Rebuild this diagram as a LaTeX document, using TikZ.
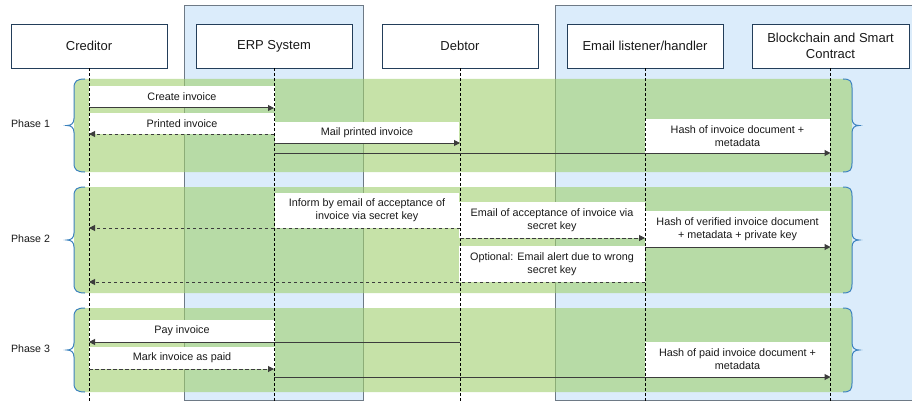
\documentclass[tikz,border=0pt]{standalone}
\usepackage{fontspec}
\setmainfont{Liberation Sans}
\usetikzlibrary{arrows.meta}
\definecolor{colblue}{RGB}{219,236,251}
\definecolor{coledge}{RGB}{110,122,134}
\definecolor{bandgreen}{RGB}{160,208,110}
\definecolor{hdrline}{RGB}{35,62,90}
\definecolor{bracecol}{RGB}{60,130,190}
\definecolor{arrowcol}{RGB}{60,60,60}
\begin{document}
\begin{tikzpicture}[x=1pt,y=-1pt,
 hdr/.style={draw=hdrline, fill=white, line width=0.9pt, minimum width=156pt, minimum height=44pt, inner sep=1pt, align=center, font=\fontsize{13}{15.5}\selectfont, text=black!90},
 lbl/.style={fill=white, inner sep=0pt, align=center, font=\fontsize{10.8}{13}\selectfont, text=black!90},
 lifeline/.style={draw=black, line width=0.8pt, dash pattern=on 3pt off 2pt},
 msg/.style={draw=arrowcol, line width=1pt, -{Triangle[length=6pt,width=6pt]}},
 reply/.style={msg, dash pattern=on 3.5pt off 2.5pt},
 band/.style={fill=bandgreen, fill opacity=0.6, rounded corners=8pt},
 column/.style={fill=colblue, draw=coledge, line width=0.8pt},
 bracestyle/.style={draw=bracecol, line width=1pt},
 phase/.style={font=\fontsize{10.6}{12}\selectfont, text=black!90}
]
\clip (0,0) rectangle (912,401);
\fill[white] (0,0) rectangle (912,401);

% system columns
\draw[column] (184,5) rectangle (363,400);
\draw[column] (555,5) rectangle (920,400);

% phase bands
\fill[band] (74,79) rectangle (852,172);
\fill[band] (74,187) rectangle (852,293);
\fill[band] (74,308) rectangle (852,392);

% headers
\node[hdr] (cred) at (89,46) {Creditor};
\node[hdr] (erp) at (274,46) {ERP System};
\node[hdr] (debt) at (460,46) {Debtor};
\node[hdr] (mail) at (645,46) {Email listener/handler};
\node[hdr, minimum width=157pt] (chain) at (830.5,46) {Blockchain and Smart\\Contract};

% label boxes
\node[lbl, minimum width=186pt, minimum height=22pt] (l1) at (182,97) {Create invoice};
\node[lbl, minimum width=186pt, minimum height=21pt] (l2) at (182,123.5) {Printed invoice};
\node[lbl, minimum width=184pt, minimum height=21pt] (l3) at (367,132.5) {Mail printed invoice};
\node[lbl, minimum width=185pt, minimum height=35pt] (l4) at (737.5,136.5) {Hash of invoice document +\\metadata};
\node[lbl, minimum width=184pt, minimum height=35pt] (l5) at (367,210.5) {Inform by email of acceptance of\\invoice via secret key};
\node[lbl, minimum width=186pt, minimum height=36pt] (l6) at (552,220) {Email of acceptance of invoice via\\secret key};
\node[lbl, minimum width=185pt, minimum height=36pt] (l7) at (737.5,229) {Hash of verified invoice document\\+ metadata + private key};
\node[lbl, minimum width=186pt, minimum height=36pt] (l8) at (552,264) {Optional: Email alert due to wrong\\secret key};
\node[lbl, minimum width=186pt, minimum height=22pt] (l9) at (182,331) {Pay invoice};
\node[lbl, minimum width=186pt, minimum height=22pt] (l10) at (182,358) {Mark invoice as paid};
\node[lbl, minimum width=185pt, minimum height=35pt] (l11) at (737.5,359.5) {Hash of paid invoice document +\\metadata};

% lifelines
\coordinate (bot) at (0,402);
\foreach \n in {cred,erp,debt,mail,chain}
  \draw[lifeline] (\n.south) -- (\n.south |- bot);

% message rows
\coordinate (r1) at (0,108);
\coordinate (r2) at (0,134);
\coordinate (r3) at (0,143);
\coordinate (r4) at (0,153);
\coordinate (r5) at (0,228);
\coordinate (r6) at (0,238);
\coordinate (r7) at (0,247);
\coordinate (r8) at (0,282);
\coordinate (r9) at (0,342);
\coordinate (r10) at (0,369);
\coordinate (r11) at (0,377);

\draw[msg] (cred |- r1) -- (erp |- r1);
\draw[reply] (erp |- r2) -- (cred |- r2);
\draw[msg] (erp |- r3) -- (debt |- r3);
\draw[msg] (erp |- r4) -- (chain |- r4);
\draw[reply] (debt |- r5) -- (cred |- r5);
\draw[reply] (debt |- r6) -- (mail |- r6);
\draw[msg] (mail |- r7) -- (chain |- r7);
\draw[reply] (mail |- r8) -- (cred |- r8);
\draw[msg] (debt |- r9) -- (cred |- r9);
\draw[reply] (cred |- r10) -- (erp |- r10);
\draw[msg] (erp |- r11) -- (chain |- r11);

% braces
\foreach \ya/\yb in {79/172, 187/293, 308/392}{
  \pgfmathsetmacro{\ym}{(\ya+\yb)/2}
  \draw[bracestyle] (85,\ya) .. controls (77,\ya) and (74,\ya+2) .. (74,\ya+9)
     -- (74,\ym-7) .. controls (74,\ym-2) and (71,\ym) .. (67,\ym)
     .. controls (71,\ym) and (74,\ym+2) .. (74,\ym+7)
     -- (74,\yb-9) .. controls (74,\yb-2) and (77,\yb) .. (85,\yb);
  \draw[bracestyle] (843,\ya) .. controls (850,\ya) and (852,\ya+2) .. (852,\ya+9)
     -- (852,\ym-7) .. controls (852,\ym-2) and (855,\ym) .. (859,\ym)
     .. controls (855,\ym) and (852,\ym+2) .. (852,\ym+7)
     -- (852,\yb-9) .. controls (852,\yb-2) and (850,\yb) .. (843,\yb);
}

% phase labels
\node[phase] (p1) at (30.5,124) {Phase 1};
\node[phase] (p2) at (30.5,239) {Phase 2};
\node[phase] (p3) at (30.5,349) {Phase 3};
\end{tikzpicture}
\end{document}
